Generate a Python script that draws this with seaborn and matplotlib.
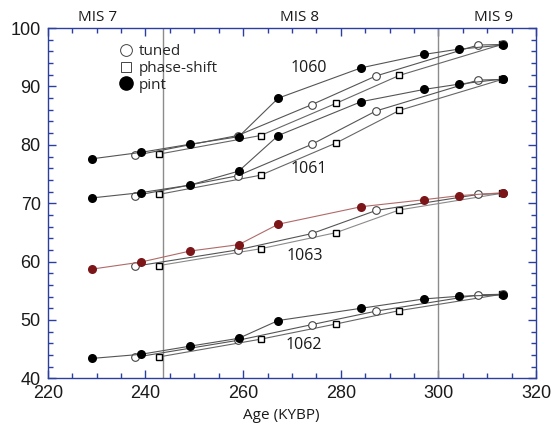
import numpy as np
import pandas as pd
import matplotlib
matplotlib.use('Agg')
import matplotlib.pyplot as plt
import seaborn as sns
from matplotlib.ticker import MultipleLocator
from matplotlib.lines import Line2D

# ages (KYBP) for each age model
pint_age = [229.0, 239.0, 249.1, 259.1, 267.2, 284.2, 297.1, 304.2, 313.3]
tuned_age = [237.9, 258.9, 274.1, 287.2, 308.1, 313.3]
shift_age = [242.7, 263.6, 279.0, 292.0, 313.0]

# values per core
pint_1060 = [77.6, 78.7, 80.1, 81.4, 88.0, 93.2, 95.5, 96.4, 97.1]
tuned_1060 = [78.2, 81.6, 86.9, 91.8, 97.1, 97.2]
shift_1060 = [78.4, 81.6, 87.1, 91.9, 97.2]

pint_1061 = [70.9, 71.8, 73.1, 75.5, 81.6, 87.4, 89.5, 90.4, 91.3]
tuned_1061 = [71.3, 74.7, 80.1, 85.8, 91.1, 91.2]
shift_1061 = [71.5, 74.8, 80.3, 85.9, 91.2]

pint_1063 = [58.7, 59.9, 61.8, 62.9, 66.4, 69.4, 70.6, 71.3, 71.8]
tuned_1063 = [59.2, 62.0, 64.8, 68.75, 71.5, 71.7]
shift_1063 = [59.3, 62.2, 64.95, 68.85, 71.7]

pint_1062 = [43.4, 44.1, 45.5, 46.85, 49.9, 52.0, 53.6, 54.05, 54.3]
tuned_1062 = [43.6, 46.5, 49.2, 51.5, 54.3, 54.4]
shift_1062 = [43.65, 46.7, 49.3, 51.6, 54.4]

cores = ['1060', '1061', '1063', '1062']
core_label_pos = [(273.4, 93.1), (273.4, 75.9), (272.7, 61.0), (272.5, 45.7)]
mis_labels = ['MIS 7', 'MIS 8', 'MIS 9']
mis_x = [230.3, 271.5, 311.2]
boundaries = [243.6, 300.0]

sns.set_style('ticks')
plt.rcParams['font.family'] = ['Open Sans', 'DejaVu Sans']

axis_blue = '#2b3f9e'
dark_red = '#7b1518'
txt = '#1a1a1a'

fig = plt.figure(figsize=(5.55, 4.26), dpi=100)
ax = fig.add_axes([0.086, 0.112, 0.880, 0.822])

for b in boundaries:
    ax.axvline(b, color='#8c8c8c', lw=1.0, zorder=1)

data = {
    '1060': (pint_1060, tuned_1060, shift_1060),
    '1061': (pint_1061, tuned_1061, shift_1061),
    '1063': (pint_1063, tuned_1063, shift_1063),
    '1062': (pint_1062, tuned_1062, shift_1062),
}

for core in cores:
    p, t, s = data[core]
    red = core == '1063'
    # phase-shift
    sns.lineplot(x=shift_age, y=s, sort=False, estimator=None, ax=ax,
                 color='#8a8a8a' if red else '#666666', lw=0.8,
                 marker='s', markersize=5, markerfacecolor='white',
                 markeredgecolor='black', markeredgewidth=1.0, zorder=2)
    # tuned
    sns.lineplot(x=tuned_age, y=t, sort=False, estimator=None, ax=ax,
                 color='#555555', lw=0.8,
                 marker='o', markersize=5.5, markerfacecolor='white',
                 markeredgecolor='#444444', markeredgewidth=0.8, zorder=3)
    # pint
    sns.lineplot(x=pint_age, y=p, sort=False, estimator=None, ax=ax,
                 color='#b06a6a' if red else '#555555', lw=0.8,
                 marker='o', markersize=6.5,
                 markerfacecolor=dark_red if red else 'black',
                 markeredgecolor=dark_red if red else 'black',
                 markeredgewidth=0, zorder=4)

for core, (cx, cy) in zip(cores, core_label_pos):
    ax.text(cx, cy, core, ha='center', va='center', fontsize=11.5, color=txt)

for lab, mx in zip(mis_labels, mis_x):
    ax.text(mx, 100.6, lab, ha='center', va='bottom', fontsize=11, color=txt)

ax.set_xlim(220, 320)
ax.set_ylim(40, 100)
ax.xaxis.set_major_locator(MultipleLocator(20))
ax.xaxis.set_minor_locator(MultipleLocator(5))
ax.yaxis.set_major_locator(MultipleLocator(10))
ax.yaxis.set_minor_locator(MultipleLocator(2))
ax.tick_params(which='both', direction='in', top=True, right=True,
               color=axis_blue, width=1.0)
ax.tick_params(which='major', length=6, pad=5, labelsize=13,
               labelfontfamily='Liberation Sans', labelcolor=txt)
ax.tick_params(which='minor', length=3.6)
for sp in ax.spines.values():
    sp.set_color(axis_blue)
    sp.set_linewidth(1.0)

ax.set_xlabel('Age (KYBP)', fontsize=11, color=txt, labelpad=2)
ax.xaxis.set_label_coords(0.478, -0.085)
ax.set_ylabel('')

handles = [
    Line2D([], [], ls='none', marker='o', markersize=8.5, markerfacecolor='white',
           markeredgecolor='#444444', markeredgewidth=0.7),
    Line2D([], [], ls='none', marker='s', markersize=7.5, markerfacecolor='white',
           markeredgecolor='#444444', markeredgewidth=0.7),
    Line2D([], [], ls='none', marker='o', markersize=9.5, markerfacecolor='black',
           markeredgecolor='black'),
]
ax.legend(handles, ['tuned', 'phase-shift', 'pint'], loc='upper left',
          bbox_to_anchor=(0.12, 0.985), frameon=False, fontsize=11,
          handletextpad=0.2, labelspacing=0.12, handlelength=1.2,
          borderpad=0.2)

fig.savefig('out.png', dpi=100)
